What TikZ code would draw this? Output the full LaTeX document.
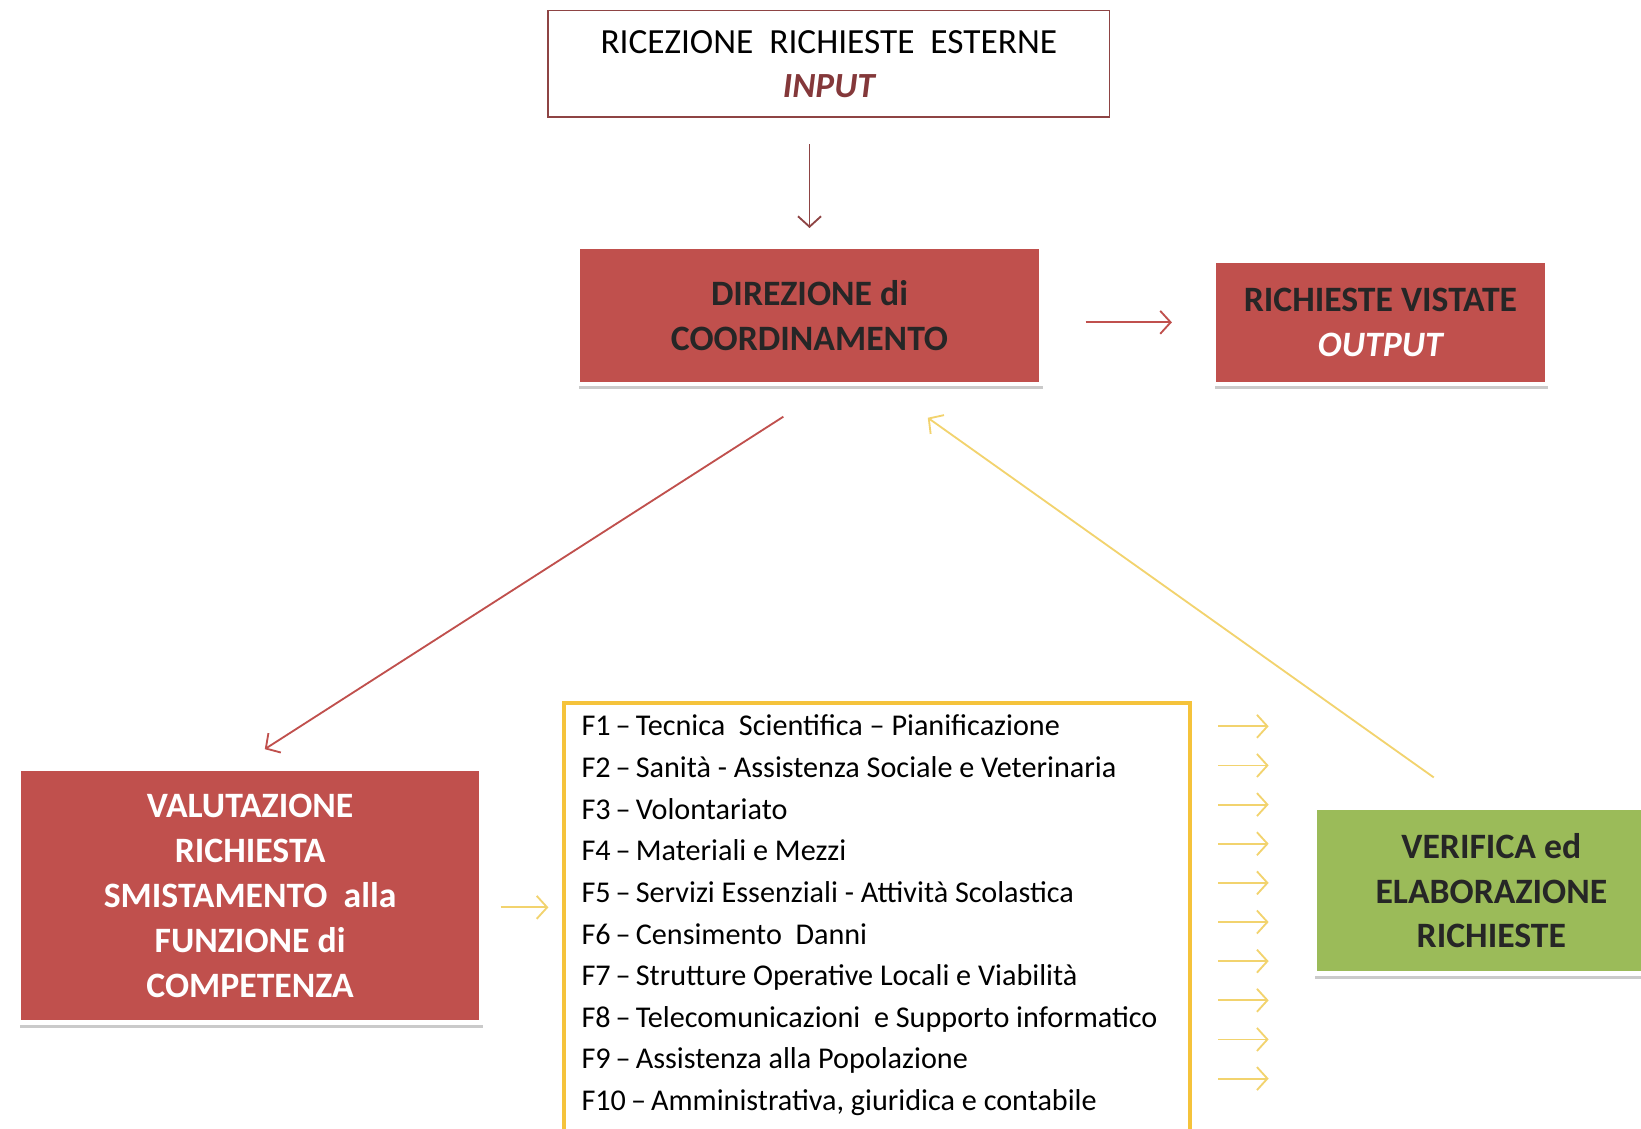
\documentclass[tikz,border=0pt]{standalone}
\usepackage{fontspec}
\setmainfont{Carlito}
\usetikzlibrary{positioning,calc,shadows,arrows.meta}
\definecolor{boxred}{HTML}{C0504D}
\definecolor{boxgreen}{HTML}{9BBB59}
\definecolor{framegold}{HTML}{F5C33B}
\definecolor{arrowgold}{HTML}{F2D36E}
\definecolor{inred}{HTML}{8E4444}
\definecolor{intext}{HTML}{84383A}
\tikzset{
% boxes of the flow
stepbox/.style={rectangle, inner sep=0pt, align=center, draw=white, line width=1.2pt,
  font=\bfseries\fontsize{9.7}{12.2}\selectfont,
  drop shadow={shadow xshift=0.01cm, shadow yshift=-0.05cm, opacity=0.35, fill=black!60}},
redbox/.style={stepbox, fill=boxred, text=black!85},
greenbox/.style={stepbox, fill=boxgreen, text=black!85},
inbox/.style={rectangle, inner sep=0pt, align=center, draw=inred, line width=0.5pt, fill=white,
  font=\fontsize{9.6}{12}\selectfont},
listframe/.style={rectangle, inner sep=0pt, draw=framegold, line width=1.1pt},
funz/.style={anchor=base west, inner sep=0pt, font=\fontsize{8.2}{9.8}\selectfont},
% arrows
redarrow/.style={-{Straight Barb[length=1mm,width=2.2mm]}, line width=0.5pt, draw=#1},
redarrow/.default={boxred},
goldarrow/.style={-{Straight Barb[length=1mm,width=2.2mm]}, line width=0.5pt, draw=arrowgold}
}
\begin{document}
\begin{tikzpicture}[x=0.01cm, y=-0.01cm]
\useasboundingbox (0,0) rectangle (1568,1078);

% top row
\node[inbox, minimum width=5.36cm, minimum height=1.02cm] (input) at (792,61)
  {RICEZIONE~ RICHIESTE~ ESTERNE\\{\color{intext}\bfseries\itshape INPUT}};
\node[redbox, minimum width=4.43cm, minimum height=1.31cm] (direzione) at (773.5,301.5)
  {DIREZIONE di\\COORDINAMENTO};
\node[redbox, minimum width=3.18cm, minimum height=1.18cm] (output) at (1319,308)
  {RICHIESTE VISTATE\\{\color{white}\itshape OUTPUT}};

% bottom row
\node[redbox, text=white, minimum width=4.42cm, minimum height=2.42cm] (valutazione) at (239,856)
  {VALUTAZIONE\\RICHIESTA\\SMISTAMENTO~ alla\\FUNZIONE di\\COMPETENZA};
\node[greenbox, minimum width=3.38cm, minimum height=1.58cm] (verifica) at (1425,851)
  {VERIFICA ed\\ELABORAZIONE\\RICHIESTE};
\node[listframe, anchor=north west, minimum width=5.98cm, minimum height=4.1cm] (funzioni) at (537,670) {};

%functions
\foreach \n/\txt [count=\i from 0] in {1/{Tecnica~ Scientifica -- Pianificazione},
    2/{Sanità - Assistenza Sociale e Veterinaria}, 3/{Volontariato}, 4/{Materiali e Mezzi},
    5/{Servizi Essenziali - Attività Scolastica}, 6/{Censimento~ Danni},
    7/{Strutture Operative Locali e Viabilità}, 8/{Telecomunicazioni~ e Supporto informatico},
    9/{Assistenza alla Popolazione}, 10/{Amministrativa, giuridica e contabile}}
  \node[funz] (f\n) at (555,{703+39.8*\i}) {F\n\,--\,\txt};

% connectors
\draw[redarrow=inred, shorten <=0.25cm, shorten >=0.16cm] (input.south -| direzione.north) -- (direzione.north);
\draw[redarrow, shorten <=0.4cm, shorten >=0.38cm] (direzione.east |- output.west) -- (output.west);
\draw[redarrow] ($(direzione.south)+(-25,29)$) -- ($(valutazione.north)+(14,-17)$);
\draw[goldarrow] ($(verifica.north)+(-55,-27)$) -- ($(direzione.south)+(113,30)$);
\draw[goldarrow] ($(valutazione.east)+(16,11)$) -- ($(valutazione.east -| funzioni.west)+(-13,11)$);
\foreach \i in {0,...,9}
  \draw[goldarrow] ($(funzioni.north east)+(25,{24+37.4*\i})$) -- ++(48,0);

\end{tikzpicture}
\end{document}
